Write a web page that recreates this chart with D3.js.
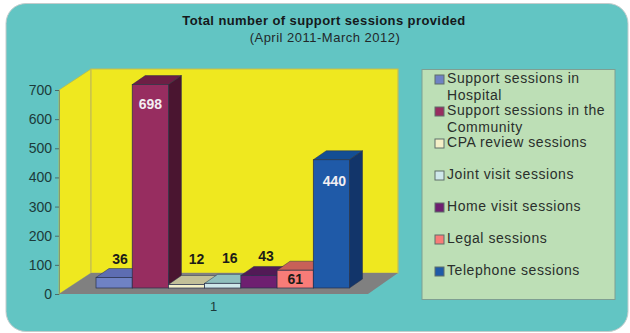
<!DOCTYPE html>
<html>
<head>
<meta charset="utf-8">
<script src="https://cdn.jsdelivr.net/npm/d3@7"></script>
<style>
  html, body { margin: 0; padding: 0; background: #fff; }
  svg { display: block; }
  text { font-family: "Liberation Sans", Arial, sans-serif; }
</style>
</head>
<body>
<svg id="chart" width="630" height="333"></svg>
<script>
// Session counts, April 2011 to March 2012
const seriesNames = [
  "Support sessions in Hospital",
  "Support sessions in the Community",
  "CPA review sessions",
  "Joint visit sessions",
  "Home visit sessions",
  "Legal sessions",
  "Telephone sessions"
];
const sessionValues = [36, 698, 12, 16, 43, 61, 440];
const frontColors = ["#6f82c4", "#972d60", "#f4f0c8", "#cfe8ea", "#6e1f70", "#f87c78", "#1f5aa8"];
const topColors   = ["#5d6db2", "#6d1f45", "#c2bf98", "#90bfbd", "#521a56", "#c86058", "#134e94"];
const sideColors  = ["#3f4a80", "#4a1530", "#8f8d70", "#6c9090", "#3a1040", "#8f4540", "#12356a"];
const legendLines = [
  ["Support sessions in", "Hospital"],
  ["Support sessions in the", "Community"],
  ["CPA review sessions"],
  ["Joint visit sessions"],
  ["Home visit sessions"],
  ["Legal sessions"],
  ["Telephone sessions"]
];
const yTicks = [0, 100, 200, 300, 400, 500, 600, 700];
const categoryLabels = ["1"];

const svg = d3.select("#chart");

// Panel
svg.append("rect")
  .attr("x", 6).attr("y", 3.5).attr("width", 622).attr("height", 328).attr("rx", 20)
  .attr("fill", "#62c5c3").attr("stroke", "#c4cccc").attr("stroke-width", 1);

// Titles
svg.append("text").attr("x", 324).attr("y", 25).attr("text-anchor", "middle")
  .attr("font-size", 13).attr("font-weight", "bold").attr("fill", "#15191b").attr("letter-spacing", 0.4)
  .text("Total number of support sessions provided");
svg.append("text").attr("x", 325).attr("y", 42).attr("text-anchor", "middle")
  .attr("font-size", 13).attr("fill", "#22282a").attr("letter-spacing", 0.5)
  .text("(April 2011-March 2012)");

// Scales: the floor front edge carries the value axis, bars stand slightly behind it
const y = d3.scaleLinear().domain([0, 700]).range([294, 90]);
const x = d3.scaleBand().domain(seriesNames).range([96, 349.5]);
const xAxisScale = d3.scaleBand().domain(categoryLabels).range([59, 368]);

const depth = { wallX: 32, wallY: -21, barX: 13, barY: -9, barInset: -6 };
const plot = { left: 59, right: 368 };
const wallTop = y(700) + depth.wallY;
const wallBase = y(0) + depth.wallY;
const polygon = pts => pts.map(p => p.join(",")).join(" ");

// Walls and floor
svg.append("polygon")
  .attr("points", polygon([[plot.left, y(700)], [plot.left + depth.wallX, wallTop], [plot.left + depth.wallX, wallBase], [plot.left, y(0)]]))
  .attr("fill", "#efe81f").attr("stroke", "#b9bc4a").attr("stroke-width", 0.8);
svg.append("polygon")
  .attr("points", polygon([[plot.left + depth.wallX, wallTop], [plot.right + 30, wallTop], [plot.right + 30, wallBase], [plot.left + depth.wallX, wallBase]]))
  .attr("fill", "#efe81f").attr("stroke", "#c4bc55").attr("stroke-width", 1.2);
svg.append("polygon")
  .attr("points", polygon([[plot.left, y(0)], [plot.left + depth.wallX, wallBase], [plot.right + 30, wallBase], [plot.right, y(0)]]))
  .attr("fill", "#808080");

// Bars in drawing order, left to right, so each one covers its neighbour's side
const bars = svg.append("g").selectAll("g")
  .data(sessionValues.map((value, i) => ({ value, name: seriesNames[i], i })))
  .join("g");
const edge = "#27304a";
bars.append("polygon")
  .attr("points", d => {
    const x0 = x(d.name), x1 = x0 + x.bandwidth(), t = y(d.value) + depth.barInset;
    return polygon([[x0, t], [x0 + depth.barX, t + depth.barY], [x1 + depth.barX, t + depth.barY], [x1, t]]);
  })
  .attr("fill", d => topColors[d.i]).attr("stroke", edge).attr("stroke-width", 0.5);
bars.append("polygon")
  .attr("points", d => {
    const x1 = x(d.name) + x.bandwidth(), t = y(d.value) + depth.barInset, b = y(0) + depth.barInset;
    return polygon([[x1, t], [x1 + depth.barX, t + depth.barY], [x1 + depth.barX, b + depth.barY], [x1, b]]);
  })
  .attr("fill", d => sideColors[d.i]).attr("stroke", edge).attr("stroke-width", 0.5);
bars.append("rect")
  .attr("x", d => x(d.name))
  .attr("y", d => y(d.value) + depth.barInset)
  .attr("width", x.bandwidth())
  .attr("height", d => y(0) - y(d.value))
  .attr("fill", d => frontColors[d.i]).attr("stroke", edge).attr("stroke-width", 0.7);

// Value labels: tall bars and the legal bar carry theirs inside, the rest sit above
const labelShift = { 36: [6, -4.5], 698: [0, 24], 12: [10, -11.5], 16: [7, -11.5], 43: [7, -5], 61: [0, 14], 440: [3, 26] };
svg.append("g").selectAll("text")
  .data(sessionValues.map((value, i) => ({ value, name: seriesNames[i] })))
  .join("text")
  .attr("x", d => x(d.name) + x.bandwidth() / 2 + labelShift[d.value][0])
  .attr("y", d => {
    const t = y(d.value) + depth.barInset;
    const inside = labelShift[d.value][1] > 0;
    return (inside ? t : t + depth.barY) + labelShift[d.value][1];
  })
  .attr("text-anchor", "middle").attr("font-size", 14).attr("font-weight", "bold")
  .attr("fill", d => d.value >= 400 ? "#f2eef2" : "#1c1c18")
  .text(d => d.value);

// Value axis
const yAxis = svg.append("g").attr("transform", `translate(${plot.left},0)`)
  .call(d3.axisLeft(y).tickValues(yTicks).tickSize(4).tickPadding(3).tickFormat(d3.format("d")));
yAxis.select(".domain").attr("stroke", "#8a9a6a").attr("stroke-width", 1);
yAxis.selectAll(".tick line").attr("stroke", "#4a6a6a");
yAxis.selectAll(".tick text")
  .attr("font-family", "Liberation Sans, Arial, sans-serif").attr("font-size", 14).attr("fill", "#1c3a3a");

// Category axis
const xAxis = svg.append("g").attr("transform", "translate(0,294)")
  .call(d3.axisBottom(xAxisScale).tickSize(0).tickPadding(8));
xAxis.select(".domain").remove();
xAxis.selectAll(".tick text")
  .attr("font-family", "Liberation Sans, Arial, sans-serif").attr("font-size", 13).attr("fill", "#1c3a3a");

// Legend
svg.append("rect")
  .attr("x", 422).attr("y", 69.5).attr("width", 193).attr("height", 230)
  .attr("fill", "#bddfb6").attr("stroke", "#7f9f92").attr("stroke-width", 1);
const legendY = [83, 115, 147, 179, 211, 243, 275];
const legend = svg.append("g").selectAll("g")
  .data(seriesNames.map((name, i) => ({ name, i })))
  .join("g")
  .attr("transform", d => `translate(0,${legendY[d.i]})`);
legend.append("rect")
  .attr("x", 435).attr("y", -8).attr("width", 9).attr("height", 9)
  .attr("fill", d => frontColors[d.i]).attr("stroke", "#5f6f68").attr("stroke-width", 1);
legend.each(function (d) {
  const t = d3.select(this).append("text").attr("x", 447)
    .attr("font-size", 14).attr("fill", "#2a2f2c").attr("letter-spacing", 0.55);
  legendLines[d.i].forEach((line, k) => {
    t.append("tspan").attr("x", 447).attr("dy", k ? 16.5 : 0).text(line);
  });
});
</script>
</body>
</html>
